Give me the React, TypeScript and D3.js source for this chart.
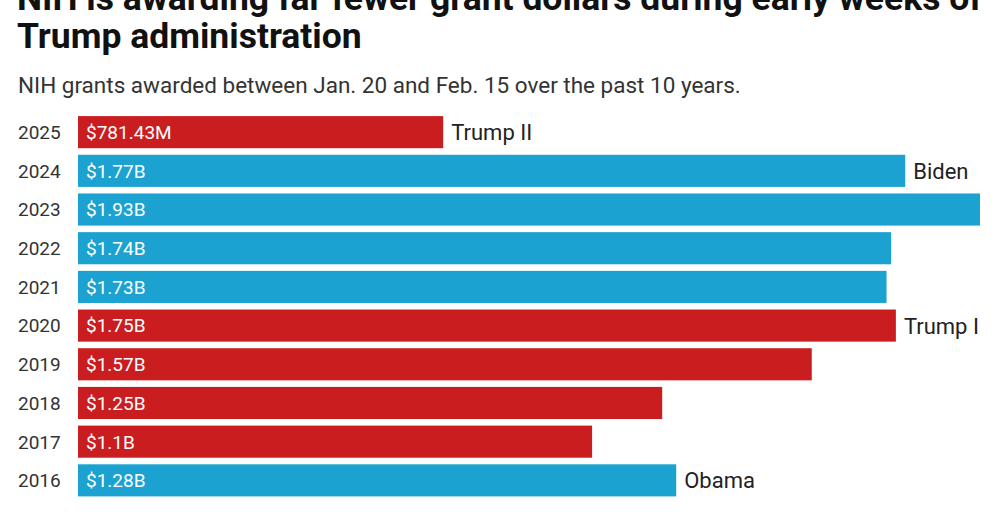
import React from 'react';
import * as d3 from 'd3';

const years = ['2025', '2024', '2023', '2022', '2021', '2020', '2019', '2018', '2017', '2016'];
const grants = [0.78143, 1.77, 1.93, 1.74, 1.73, 1.75, 1.57, 1.25, 1.1, 1.28]; // billions
const valueLabels = ['$781.43M', '$1.77B', '$1.93B', '$1.74B', '$1.73B', '$1.75B', '$1.57B', '$1.25B', '$1.1B', '$1.28B'];
const party = ['R', 'D', 'D', 'D', 'D', 'R', 'R', 'R', 'R', 'D'];
const adminLabels = ['Trump II', 'Biden', '', '', '', 'Trump I', '', '', '', 'Obama'];

const W = 1000;
const H = 525;
const FONT = 'Roboto, "Noto Sans", sans-serif';
const RED = '#c91d1f';
const BLUE = '#1ba2d0';

export default function App() {
  const x = d3.scaleLinear().domain([0, d3.max(grants) || 2]).range([78, 980]);
  const y = d3.scaleBand().domain(years).range([113, 499.5]).paddingInner(0.17).paddingOuter(0.08);

  return (
    <svg width={W} height={H} style={{ position: 'absolute', left: 0, top: 0, background: '#fff' }} fontFamily={FONT}>
      {/* title, first line is clipped by the top edge like in the original */}
      <text x={17} y={10} fontSize={35.5} fontWeight={700} fill="#111">
        NIH is awarding far fewer grant dollars during early weeks of
      </text>
      <text x={17} y={48} fontSize={35.5} fontWeight={700} fill="#111">
        Trump administration
      </text>
      <text x={18} y={93} fontSize={22.5} fill="#333">
        NIH grants awarded between Jan. 20 and Feb. 15 over the past 10 years.
      </text>

      {years.map((yr, i) => {
        const by = y(yr) || 0;
        const bh = y.bandwidth();
        const cy = by + bh / 2;
        return (
          <g key={yr}>
            <text x={18} y={cy} dy="0.36em" fontSize={19} fill="#333">{yr}</text>
            <rect x={x(0)} y={by} width={x(grants[i]) - x(0)} height={bh} fill={party[i] === 'R' ? RED : BLUE} />
            <text x={x(0) + 8} y={cy} dy="0.36em" fontSize={19} fill="#fff">{valueLabels[i]}</text>
            {adminLabels[i] && (
              <text x={x(grants[i]) + 8} y={cy} dy="0.36em" fontSize={22} fill="#222">{adminLabels[i]}</text>
            )}
          </g>
        );
      })}
    </svg>
  );
}
